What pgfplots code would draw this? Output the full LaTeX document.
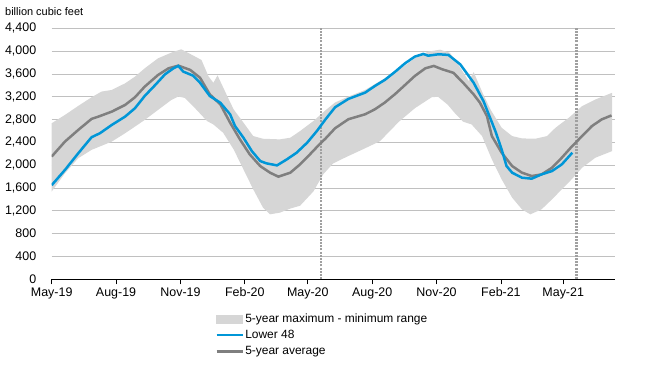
\documentclass[border=0pt]{standalone}
\usepackage{fontspec}
\setmainfont{Liberation Sans}
\usepackage{pgfplots}
\pgfplotsset{compat=1.18}
\usepgfplotslibrary{fillbetween}
\definecolor{eiablue}{HTML}{0096D7}
\definecolor{avggray}{HTML}{7F7F7F}
\definecolor{bandgray}{HTML}{D6D6D6}
\definecolor{gridgray}{HTML}{C0C0C0}
\definecolor{dashgray}{HTML}{A0A0A0}
\begin{document}
\begin{tikzpicture}
\begin{axis}[
 at={(0,0)}, anchor=south west,
 scale only axis, width=563.3bp, height=251bp,
 xmin=0, xmax=805, ymin=0, ymax=4400,
 axis x line*=bottom, axis y line*=left,
 separate axis lines,
 x axis line style={black, line width=1.2bp, -},
 y axis line style={draw=none},
 xtick={0,92,184,276,366,458,550,642,731},
 xticklabels={May-19,Aug-19,Nov-19,Feb-20,May-20,Aug-20,Nov-20,Feb-21,May-21},
 ytick={0,400,...,4400},
 ymajorgrids, major grid style={gridgray, line width=0.7bp},
 tick align=outside,
 xtick style={black, line width=0.8bp},
 major tick length=5bp,
 ytick style={draw=none},
 tick label style={font=\fontsize{12.5}{12.5}\selectfont},
 yticklabel style={xshift=-7bp},
 /pgf/number format/assume math mode=true,
 /pgf/number format/1000 sep={,},
 scaled y ticks=false,
 legend style={at={(rel axis cs:0.29,-0.13)}, anchor=north west, draw=none, fill=none,
   font=\fontsize{12}{12}\selectfont, row sep=3.5bp, inner sep=0pt,
   nodes={inner sep=1.5bp}, cells={anchor=west}},
]
\addlegendimage{legend image code/.code={\fill[bandgray] (0bp,-4bp) rectangle (26bp,4bp);}}
\addlegendentry{5-year maximum - minimum range}
\addlegendimage{legend image code/.code={\draw[eiablue, line width=2.5bp] (0bp,0bp) -- (26bp,0bp);}}
\addlegendentry{Lower 48}
\addlegendimage{legend image code/.code={\draw[avggray, line width=2.5bp] (0bp,0bp) -- (26bp,0bp);}}
\addlegendentry{5-year average}

\addplot[name path=upper, draw=none, forget plot] coordinates {
(0,2736) (19,2882) (38,3040) (57,3191) (71,3290) (86,3320) (105,3436) (119,3553)
(133,3699) (152,3874) (171,3974) (185,4032) (198,3950) (214,3845) (224,3560) (231,3445)
(237,3574) (252,3182) (260,2978) (272,2780) (288,2511) (302,2464) (326,2453) (341,2482)
(355,2599) (374,2774) (391,2960) (405,3100) (424,3203) (448,3320) (472,3495) (496,3670)
(519,3874) (538,3991) (555,4025) (569,3971) (584,3708) (596,3474) (603,3632) (616,3260)
(627,2978) (643,2657) (658,2511) (672,2470) (691,2464) (708,2511) (720,2657) (739,2832)
(758,3036) (777,3153) (801,3270)};
\addplot[name path=lower, draw=none, forget plot] coordinates {
(0,1539) (19,1860) (38,2123) (57,2269) (71,2339) (86,2415) (105,2561) (119,2677)
(133,2794) (152,2969) (171,3144) (181,3203) (190,3180) (202,3036) (222,2774) (231,2715)
(245,2569) (260,2277) (274,1927) (288,1577) (302,1256) (312,1139) (326,1168) (341,1240)
(355,1290) (374,1540) (388,1840) (402,2030) (422,2150) (445,2280) (469,2420) (496,2760)
(519,2999) (543,3191) (552,3200) (566,3060) (577,2900) (588,2763) (600,2715)
(615,2511) (629,2102) (643,1752) (658,1431) (672,1226) (684,1139) (700,1226) (715,1402)
(729,1577) (743,1752) (758,1956) (777,2132) (801,2248)};
\addplot[bandgray, draw=none, forget plot] fill between[of=upper and lower];

\addplot[dashgray, line width=2.2bp, dash pattern=on 2bp off 1.2bp, forget plot] coordinates {(385,0) (385,4400)};
\addplot[dashgray, line width=2.2bp, dash pattern=on 2bp off 1.2bp, forget plot] coordinates {(750,0) (750,4400)};

\addplot[avggray, line width=2.5bp, forget plot] coordinates {
(0,2152) (19,2415) (38,2619) (57,2812) (67,2853) (86,2940) (105,3057) (119,3191)
(133,3378) (152,3582) (167,3699) (181,3746) (198,3670) (212,3533) (226,3241) (241,3066)
(255,2745) (269,2453) (283,2190) (298,1985) (312,1869) (324,1799) (341,1869) (355,2015)
(369,2190) (384,2383) (391,2464) (405,2648) (424,2806) (448,2893) (462,2981) (476,3098)
(491,3250) (505,3407) (519,3565) (534,3699) (546,3740) (558,3682) (574,3620) (588,3445)
(603,3241) (612,3095) (622,2861) (629,2511) (643,2219) (658,1985) (672,1869) (686,1810)
(700,1839) (715,1956) (729,2132) (743,2324) (758,2511) (772,2686) (786,2803) (800,2873)};

\addplot[eiablue, line width=2.5bp, forget plot] coordinates {
(0,1650) (19,1918) (38,2210) (57,2491) (69,2561) (86,2707) (105,2853) (119,2999)
(133,3215) (148,3407) (162,3594) (174,3699) (181,3740) (188,3641) (202,3570) (212,3445)
(226,3212) (241,3095) (255,2891) (262,2686) (274,2482) (286,2248) (298,2073) (307,2032)
(322,1997) (336,2102) (350,2219) (365,2394) (379,2600) (391,2800) (405,3016) (424,3162)
(448,3273) (462,3390) (476,3495) (491,3641) (505,3787) (519,3904) (531,3950) (538,3920)
(553,3945) (567,3933) (584,3766) (603,3445) (617,3124) (634,2599) (643,2277) (650,1985)
(658,1869) (672,1781) (686,1764) (700,1839) (715,1898) (729,2015) (744,2219)};
\end{axis}
\node[anchor=west, inner sep=0pt, font=\fontsize{11}{11}\selectfont] at (-46.7bp,267.3bp) {billion cubic feet};
\pgfresetboundingbox
\path[use as bounding box] (-51.7bp,-110.7bp) rectangle (615.3bp,279.3bp);
\end{tikzpicture}
\end{document}
